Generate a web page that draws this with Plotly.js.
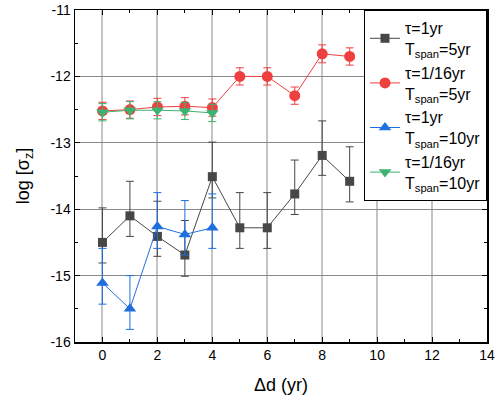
<!DOCTYPE html>
<html>
<head>
<meta charset="utf-8">
<script src="https://cdn.plot.ly/plotly-3.0.1.min.js"></script>
<style>html,body{margin:0;padding:0;background:#fff;}#chart{width:503px;height:410px;}</style>
</head>
<body>
<div id="chart"></div>
<script>
// Data
const dGray = [0,1,2,3,4,5,6,7,8,9];
const yGray = [-14.50,-14.10,-14.41,-14.69,-13.51,-14.28,-14.28,-13.77,-13.19,-13.58];
const errGrayPlus  = [0.52,0.52,0.53,0.52,0.52,0.53,0.53,0.51,0.52,0.52];
const errGrayMinus = [0.31,0.31,0.30,0.32,0.32,0.31,0.31,0.31,0.30,0.31];

const dRed = [0,1,2,3,4,5,6,7,8,9];
const yRed = [-12.52,-12.50,-12.46,-12.45,-12.47,-12.00,-12.00,-12.29,-11.66,-11.70];
const errRed = [0.13,0.13,0.13,0.13,0.13,0.13,0.13,0.13,0.135,0.13];

const dBlue = [0,1,2,3,4];
const yBlue = [-15.11,-15.50,-14.26,-14.38,-14.28];
const errBluePlus  = [0.52,0.50,0.51,0.51,0.51];
const errBlueMinus = [0.32,0.31,0.33,0.31,0.31];

const dGreen = [0,1,2,3,4];
const yGreen = [-12.54,-12.51,-12.51,-12.52,-12.55];
const errGreen = [0.13,0.13,0.13,0.13,0.13];

const names = [
  'τ=1yr<br>T<sub>span</sub>=5yr',
  'τ=1/16yr<br>T<sub>span</sub>=5yr',
  'τ=1yr<br>T<sub>span</sub>=10yr',
  'τ=1/16yr<br>T<sub>span</sub>=10yr'
];
const xTicks = [0,2,4,6,8,10,12,14];
const yTicks = [-16,-15,-14,-13,-12,-11];

const cGray = '#474747', cRed = '#EF4040', cBlue = '#1F6FE0', cGreen = '#3CB371';

function tr(x, y, name, color, symbol, size, ep, em) {
  return {
    x: x, y: y, name: name, type: 'scatter', mode: 'lines+markers',
    line: {color: color, width: 1},
    marker: {color: color, symbol: symbol, size: size},
    error_y: {type: 'data', array: ep, arrayminus: em, symmetric: false,
              color: color, thickness: 1, width: 4}
  };
}

const data = [
  tr(dGray, yGray, names[0], cGray, 'square', 9, errGrayPlus, errGrayMinus),
  tr(dRed, yRed, names[1], cRed, 'circle', 11, errRed, errRed),
  tr(dBlue, yBlue, names[2], cBlue, 'triangle-up', 11, errBluePlus, errBlueMinus),
  tr(dGreen, yGreen, names[3], cGreen, 'triangle-down', 11, errGreen, errGreen)
];

const layout = {
  width: 503, height: 410,
  margin: {l: 75, r: 16, t: 10, b: 68},
  paper_bgcolor: '#fff', plot_bgcolor: '#fff',
  font: {family: 'Liberation Sans, Arial, sans-serif', color: '#000', size: 14},
  showlegend: true,
  legend: {
    x: 1, xanchor: 'right', y: 1, yanchor: 'top',
    bgcolor: '#fff', bordercolor: '#000', borderwidth: 1,
    font: {size: 16}, tracegroupgap: 0, itemwidth: 30
  },
  xaxis: {
    range: [-1, 14], tickvals: xTicks, ticktext: xTicks.map(String),
    ticks: 'inside', ticklen: 5, tickcolor: '#000',
    showline: true, linecolor: '#000', linewidth: 1.5, mirror: 'allticks',
    showgrid: true, gridcolor: '#c4c4c4', gridwidth: 2, zeroline: false,
    minor: {dtick: 1, tick0: 0, ticks: 'inside', ticklen: 3, tickcolor: '#000', showgrid: false},
    title: {text: 'Δd (yr)', font: {size: 18}, standoff: 16},
    tickfont: {size: 14}
  },
  yaxis: {
    range: [-16, -11], tickvals: yTicks, ticktext: yTicks.map(String),
    ticks: 'inside', ticklen: 5, tickcolor: '#000',
    showline: true, linecolor: '#000', linewidth: 1.5, mirror: 'allticks',
    showgrid: true, gridcolor: '#8a8a8a', gridwidth: 1, zeroline: false,
    minor: {dtick: 0.5, tick0: -16, ticks: 'inside', ticklen: 3, tickcolor: '#000', showgrid: false},
    title: {text: 'log [σ<sub>z</sub>]', font: {size: 18}, standoff: 16},
    tickfont: {size: 14}
  }
};

Plotly.newPlot('chart', data, layout, {displayModeBar: false, staticPlot: true});
</script>
</body>
</html>
